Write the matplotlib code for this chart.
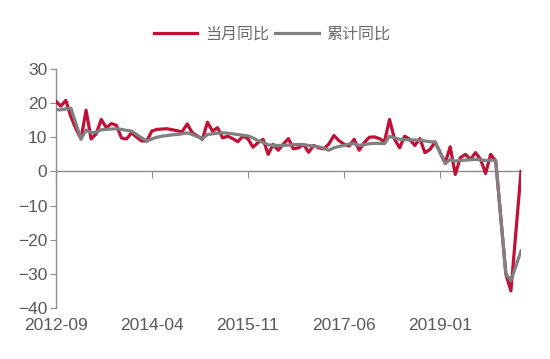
# -*- coding: utf-8 -*-
import numpy as np
import pandas as pd
import matplotlib
matplotlib.use('Agg')
import matplotlib.pyplot as plt

plt.rcParams['font.family'] = ['Liberation Sans', 'Noto Sans CJK SC', 'DejaVu Sans']

# 数据：2012-09 起的月度序列（nan 表示该月无数据）
nan = np.nan
months = pd.period_range('2012-09', periods=93, freq='M').strftime('%Y-%m').tolist()

red = [20.6, 19.1, 20.8, 16.0, 12.5, 9.5, 17.9, 9.5, 11.0, 15.2,
       12.8, 14.0, 13.5, 9.8, 9.5, 11.3, 10.0, 8.9, 8.9, 11.8,
       12.3, 12.4, 12.5, 12.2, 11.9, 11.6, 13.9, 11.3, 10.4, 9.4,
       14.4, 11.8, 12.8, 9.8, 10.3, 9.6, 8.7, 10.3, 9.6, 7.1,
       8.4, 9.4, 5.0, 7.9, 6.2, 8.0, 9.6, 6.6, 6.9, 7.9,
       5.6, 7.6, 6.9, 6.6, 8.0, 10.5, 9.0, 8.0, 7.4, 9.4,
       6.2, 8.4, 10.0, 10.1, 9.6, 8.7, 15.2, 9.4, 6.9, 10.3,
       9.4, 7.6, 9.6, 5.5, 6.4, 8.6, 5.6, 2.5, 7.2, -0.9,
       4.0, 5.0, 3.5, 5.5, 3.5, -0.6, 5.0, 3.0, nan, -30.0,
       -35.0, nan, 0.0]

gray = [18.1, 18.0, 18.3, 18.5, 14.0, 9.5, 12.1, 11.3, 11.5, 12.2,
        12.3, 12.4, 12.5, 12.3, 12.0, 11.8, 10.8, 9.8, 8.9, 9.5,
        10.0, 10.3, 10.5, 10.7, 10.8, 11.0, 11.3, 10.8, 10.2, 9.6,
        10.8, 11.0, 11.2, 11.3, 11.2, 11.0, 10.8, 10.6, 10.4, 9.8,
        9.0, 8.5, 7.8, 7.6, 7.6, 7.6, 7.7, 7.8, 7.9, 7.8,
        7.6, 7.4, 7.2, 6.8, 6.2, 6.9, 7.3, 7.6, 8.0, 8.1,
        7.6, 7.8, 8.1, 8.2, 8.2, 8.1, 10.3, 9.8, 9.4, 9.3,
        9.2, 9.2, 9.1, 8.9, 8.7, 8.6, 5.5, 2.2, 3.5, 3.0,
        3.2, 3.3, 3.4, 3.5, 3.4, 3.2, 3.3, 3.3, nan, -30.0,
        -32.0, nan, -23.3]

tick_labels = ['2012-09', '2014-04', '2015-11', '2017-06', '2019-01']
names = ['当月同比', '累计同比']

red_c = '#C20F35'
gray_c = '#808080'
axis_c = '#8C8C8C'
text_c = '#595959'

x = np.arange(len(months))
red = np.array(red)
gray = np.array(gray)

fig = plt.figure(figsize=(5.5, 3.59), dpi=100)
ax = fig.add_axes([0.1013, 0.142, 0.846, 0.666])

m1 = ~np.isnan(red)
m2 = ~np.isnan(gray)
ax.plot(x[m1], red[m1], color=red_c, lw=2.3, label=names[0], zorder=3)
ax.plot(x[m2], gray[m2], color=gray_c, lw=2.3, label=names[1], zorder=4)

ax.set_xlim(0, len(months) - 1)
ax.set_ylim(-40, 30)
ax.set_yticks(range(-40, 31, 10))

for s in ['top', 'right']:
    ax.spines[s].set_visible(False)
ax.spines['left'].set_color(axis_c)
ax.spines['left'].set_linewidth(1.0)
ax.spines['bottom'].set_position(('data', 0))
ax.spines['bottom'].set_color(axis_c)
ax.spines['bottom'].set_linewidth(1.0)

tick_pos = [months.index(t) for t in tick_labels]
ax.set_xticks(tick_pos)
ax.tick_params(axis='x', length=5, color=axis_c, labelbottom=False)
ax.tick_params(axis='y', length=4, color=axis_c, labelsize=12.5,
               labelcolor=text_c, pad=2)

sec = ax.secondary_xaxis(0)
sec.set_xticks(tick_pos)
sec.set_xticklabels(tick_labels)
sec.spines['bottom'].set_visible(False)
sec.tick_params(length=0, labelsize=12.5, labelcolor=text_c, pad=7)

leg = fig.legend(loc='center', bbox_to_anchor=(0.495, 0.905), ncol=2,
                 frameon=False, handlelength=2.7, handletextpad=0.5,
                 columnspacing=0.4,
                 prop={'family': ['Noto Sans CJK SC'], 'size': 11.5, 'weight': 'light'})
for t in leg.get_texts():
    t.set_color('#6a6a6a')

fig.savefig('out.png', dpi=100)
